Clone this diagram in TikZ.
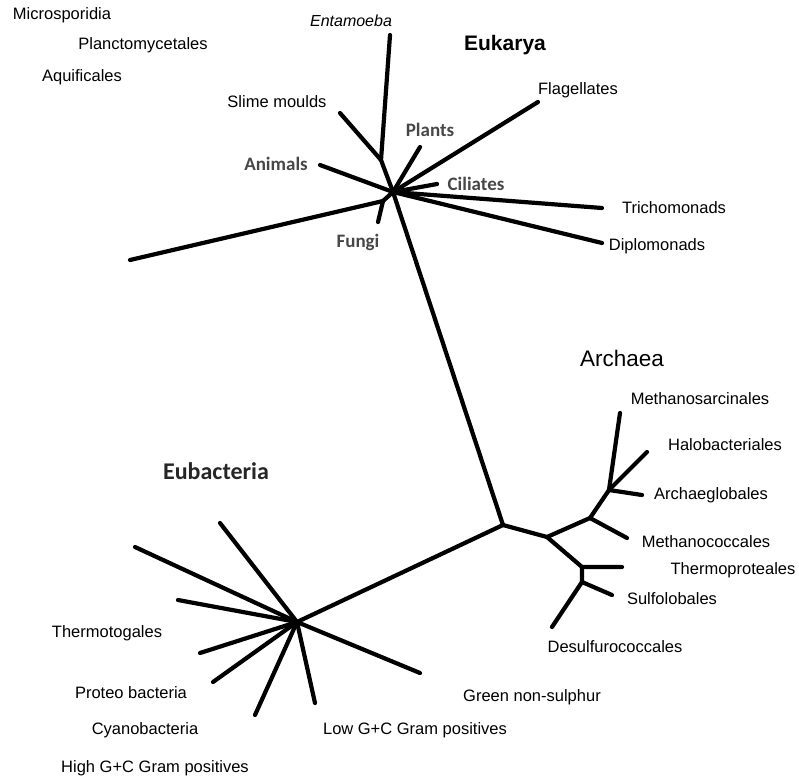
\documentclass[tikz,border=0pt]{standalone}
\usepackage{fontspec}
\setmainfont{Liberation Sans}
\newfontfamily\calfont{Carlito}

\begin{document}
\begin{tikzpicture}[x=1pt,y=-1pt,
  branch/.style={line width=4.2pt,line cap=round,line join=round},
  taxon/.style={font=\fontsize{16.5}{18}\selectfont,inner sep=0pt},
  grey/.style={font=\calfont\bfseries\fontsize{19}{21}\selectfont,text=black!72,inner sep=0pt}]

\useasboundingbox (0,0) rectangle (799,779);

% Inner points of the tree
\coordinate (euk) at (393,192);
\coordinate (slj) at (381,160);
\coordinate (fuj) at (383,201);
\coordinate (root) at (503,525);
\coordinate (bac) at (297,622);
\coordinate (arA) at (547,537);
\coordinate (arB) at (590,518);
\coordinate (arC) at (609,490);
\coordinate (arD) at (582,567);
\coordinate (arE) at (582,582);

% Tips
\coordinate (entT) at (390,35);
\coordinate (sliT) at (340,113);
\coordinate (aniT) at (320,165);
\coordinate (plaT) at (420,147);
\coordinate (flaT) at (538,102);
\coordinate (cilT) at (437,184);
\coordinate (triT) at (602,208);
\coordinate (dipT) at (602,243);
\coordinate (lefT) at (130,260);
\coordinate (funT) at (378,222);

\coordinate (msaT) at (620,413);
\coordinate (halT) at (647,452);
\coordinate (arcT) at (642,495);
\coordinate (mcoT) at (627,538);
\coordinate (thpT) at (622,567);
\coordinate (sulT) at (612,595);
\coordinate (desT) at (552,627);

\coordinate (b1T) at (220,523);
\coordinate (b2T) at (135,547);
\coordinate (b3T) at (178,600);
\coordinate (b4T) at (200,653);
\coordinate (b5T) at (213,682);
\coordinate (b6T) at (255,715);
\coordinate (b7T) at (315,703);
\coordinate (b8T) at (420,673);

% Eukarya branches
\draw[branch] (euk) -- (slj) -- (entT);
\draw[branch] (slj) -- (sliT);
\draw[branch] (euk) -- (aniT);
\draw[branch] (euk) -- (plaT);
\draw[branch] (euk) -- (flaT);
\draw[branch] (euk) -- (cilT);
\draw[branch] (euk) -- (triT);
\draw[branch] (euk) -- (dipT);
\draw[branch] (euk) -- (fuj) -- (lefT);
\draw[branch] (fuj) -- (funT);

% Stem
\draw[branch] (euk) -- (root);
\draw[branch] (root) -- (bac);

% Archaea branches
\draw[branch] (root) -- (arA) -- (arB) -- (arC) -- (msaT);
\draw[branch] (arC) -- (halT);
\draw[branch] (arC) -- (arcT);
\draw[branch] (arB) -- (mcoT);
\draw[branch] (arA) -- (arD) -- (thpT);
\draw[branch] (arD) -- (arE) -- (sulT);
\draw[branch] (arE) -- (desT);

% Eubacteria branches
\foreach \t in {b1T,b2T,b3T,b4T,b5T,b6T,b7T,b8T}
  \draw[branch] (bac) -- (\t);

% Group labels
\node[font=\bfseries\fontsize{21}{24}\selectfont,inner sep=0pt] (eukarya) at (505,45) {Eukarya};
\node[font=\fontsize{22.5}{25}\selectfont,inner sep=0pt] (archaea) at (622,358) {Archaea};
\node[font=\calfont\bfseries\fontsize{24}{27}\selectfont,text=black!85,inner sep=0pt] (eubacteria) at (216,471) {Eubacteria};

% Eukarya labels
\node[taxon] (micro) at (62,15) {Microsporidia};
\node[taxon] (planc) at (143,45) {Planctomycetales};
\node[taxon] (aquif) at (82,77) {Aquificales};
\node[taxon,font=\itshape\fontsize{16}{18}\selectfont] (entam) at (351,21) {Entamoeba};
\node[taxon] (slime) at (277,102) {Slime moulds};
\node[grey] (anim) at (276,164) {Animals};
\node[grey] (fungi) at (358,242) {Fungi};
\node[grey] (plant) at (430,130) {Plants};
\node[grey] (cilia) at (476,184) {Ciliates};
\node[taxon] (flag) at (578,90) {Flagellates};
\node[taxon] (trich) at (674,208) {Trichomonads};
\node[taxon] (diplo) at (657,246) {Diplomonads};

% Archaea labels
\node[taxon] (msarc) at (700,399) {Methanosarcinales};
\node[taxon] (halob) at (725,445) {Halobacteriales};
\node[taxon] (archg) at (711,495) {Archaeglobales};
\node[taxon] (mcocc) at (706,542) {Methanococcales};
\node[taxon] (thprot) at (733,570) {Thermoproteales};
\node[taxon] (sulfo) at (672,599) {Sulfolobales};
\node[taxon] (desulf) at (615,647) {Desulfurococcales};

% Eubacteria labels
\node[taxon] (green) at (532,697) {Green non-sulphur};
\node[taxon] (lowgc) at (415,730) {Low G+C Gram positives};
\node[taxon] (thtog) at (107,633) {Thermotogales};
\node[taxon] (proteo) at (131,693) {Proteo bacteria};
\node[taxon] (cyano) at (145,730) {Cyanobacteria};
\node[taxon] (highgc) at (155,768) {High G+C Gram positives};

\end{tikzpicture}
\end{document}
